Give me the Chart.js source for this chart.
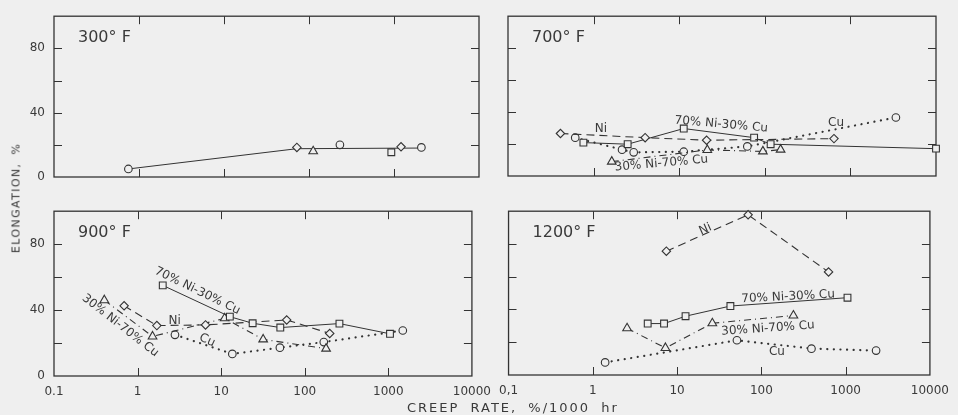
<!DOCTYPE html>
<html>
<head>
<meta charset="utf-8">
<script src="https://cdn.jsdelivr.net/npm/chart.js@4.4.1/dist/chart.umd.min.js"></script>
<style>
  body { margin: 0; background: #efefef; }
  #wrap { position: relative; width: 958px; height: 415px; background: #efefef; font-family: "DejaVu Sans", sans-serif; color: #3a3a3a; overflow: hidden; }
  canvas { position: absolute; }
  .axt { position: absolute; font-size: 13px; letter-spacing: 2px; word-spacing: 5px; white-space: nowrap; }
</style>
</head>
<body>
<div id="wrap">
  <canvas id="p300" style="left:0;top:0" width="500" height="195"></canvas>
  <canvas id="p700" style="left:490px;top:0" width="468" height="195"></canvas>
  <canvas id="p900" style="left:0;top:195px" width="500" height="220"></canvas>
  <canvas id="p1200" style="left:490px;top:195px" width="468" height="220"></canvas>
  <div class="axt" style="left:16px;top:198px;font-size:11px;letter-spacing:1.4px;word-spacing:3px;transform:translate(-50%,-50%) rotate(-90deg)">ELONGATION, %</div>
  <div class="axt" style="left:407px;top:400px">CREEP RATE, %/1000 hr</div>
</div>
<script>
// axes
const xTicks = [0.1, 1, 10, 100, 1000, 10000];
const xLabelsLeft = ['0.1', '1', '10', '100', '1000', '10000'];
const xLabelsRight = ['0,1', '1', '10', '100', '1000', '10000'];
const xLabelsNone = ['', '', '', '', '', ''];
const yTicks = [0, 20, 40, 60, 80, 100];
const yLabels = ['0', '', '40', '', '80', ''];
const yLabelsNone = ['', '', '', '', '', ''];

// 300 F
const cu300X = [0.75, 231, 2100], cu300Y = [5, 20, 18.4];
const ni300X = [72, 1210], ni300Y = [18.4, 18.8];
const n70_300X = [930], n70_300Y = [15.4];
const n30_300X = [112], n30_300Y = [16];
const fit300X = [0.75, 72, 2100], fit300Y = [5, 17.6, 18];

// 700 F
const ni700X = [0.41, 4.0, 20.9, 643], ni700Y = [26.6, 24, 22.4, 23.4];
const n70_700X = [0.76, 2.5, 11.3, 75, 117, 10000], n70_700Y = [20.9, 19.9, 29.7, 24, 19.9, 17.1];
const cu700X = [0.61, 2.15, 2.94, 11.3, 62.5, 3400], cu700Y = [24, 16.5, 14.8, 15.2, 18.5, 36.6];
const n30_700X = [1.63, 21.3, 95, 153], n30_700Y = [9, 16.3, 15.4, 16.5];

// 900 F
const n70_900X = [2.0, 12.7, 23.8, 51, 260, 1047], n70_900Y = [55, 36, 32, 29.4, 31.8, 25.6];
const ni900X = [0.69, 1.7, 6.5, 60.8, 199], ni900Y = [42.6, 30.6, 31, 34, 25.8];
const n30_900X = [0.40, 1.51, 11.0, 31.8, 180], n30_900Y = [46, 24, 35, 22.2, 16.6];
const cu900X = [2.8, 13.6, 50.4, 169, 1489], cu900Y = [25, 13.4, 17.2, 20.6, 27.6];

// 1200 F
const ni1200X = [7.46, 69.6, 627], ni1200Y = [75.6, 97.8, 62.9];
const n70_1200X = [4.48, 7.0, 12.6, 42.9, 1052], n70_1200Y = [31.4, 31.4, 35.9, 42.1, 47.2];
const n30_1200X = [2.55, 7.27, 26.2, 240], n30_1200Y = [28.5, 16.5, 31.6, 36.3];
const cu1200X = [1.40, 51.3, 393, 2297], cu1200Y = [7.7, 21.2, 16.1, 14.9];

const INK = '#333';
const BG = '#efefef';
const FONT = '"DejaVu Sans", sans-serif';

const STYLE = {
  cu:  { shape: 'circle',   r: 3.8, w: 2.2, dash: [0.1, 6.5], cap: 'round' },
  ni:  { shape: 'rectRot',  r: 4.2, w: 1.1, dash: [8, 5] },
  n70: { shape: 'rect',     r: 4.8, w: 1,   dash: [] },
  n30: { shape: 'triangle', r: 5,   w: 1.1, dash: [7, 4, 1, 4] },
  fit: { shape: 'circle',   r: 0,   w: 1,   dash: [] }
};

function pts(xs, ys) {
  return xs.map((x, i) => ({ x, y: ys[i] }));
}

function series(kind, xs, ys, showLine = true) {
  const s = STYLE[kind];
  return {
    data: pts(xs, ys),
    showLine,
    borderColor: INK,
    borderWidth: s.w,
    borderDash: s.dash,
    borderCapStyle: s.cap || 'butt',
    pointStyle: s.shape,
    pointRadius: s.r,
    pointBorderColor: INK,
    pointBackgroundColor: BG,
    pointBorderWidth: 1.1,
    tension: 0,
    fill: false,
    clip: false
  };
}

const framePlugin = {
  id: 'frame',
  beforeDatasetsDraw(chart, args, opts) {
    const { ctx, chartArea: a, scales } = chart;
    ctx.save();
    ctx.strokeStyle = INK;
    ctx.lineWidth = 1.3;
    ctx.strokeRect(a.left, a.top, a.right - a.left, a.bottom - a.top);
    ctx.lineWidth = 1;
    ctx.beginPath();
    xTicks.slice(1, -1).forEach(v => {
      const px = Math.round(scales.x.getPixelForValue(v)) + 0.5;
      ctx.moveTo(px, a.bottom); ctx.lineTo(px, a.bottom - 8);
      ctx.moveTo(px, a.top); ctx.lineTo(px, a.top + 8);
    });
    yTicks.slice(1, -1).forEach(v => {
      const py = Math.round(scales.y.getPixelForValue(v)) + 0.5;
      ctx.moveTo(a.left, py); ctx.lineTo(a.left + 8, py);
      ctx.moveTo(a.right, py); ctx.lineTo(a.right - 8, py);
    });
    ctx.stroke();
    ctx.restore();
  },
  afterDatasetsDraw(chart, args, opts) {
    const { ctx, chartArea: a, scales } = chart;
    ctx.save();
    ctx.fillStyle = '#3a3a3a';
    ctx.font = '16px ' + FONT;
    ctx.textBaseline = 'middle';
    ctx.fillText(opts.title, a.left + 24, a.top + 22);
    ctx.font = '12px ' + FONT;
    ctx.textAlign = 'center';
    (opts.notes || []).forEach(n => {
      ctx.save();
      ctx.translate(scales.x.getPixelForValue(n.x), scales.y.getPixelForValue(n.y));
      ctx.rotate((n.rot || 0) * Math.PI / 180);
      ctx.fillText(n.text, 0, 0);
      ctx.restore();
    });
    ctx.restore();
  }
};

function makePanel(id, cfg) {
  return new Chart(document.getElementById(id), {
    type: 'line',
    data: { datasets: cfg.datasets },
    options: {
      responsive: false,
      animation: false,
      layout: { padding: cfg.pad },
      plugins: {
        legend: { display: false },
        tooltip: { enabled: false },
        frame: { title: cfg.title, notes: cfg.notes }
      },
      scales: {
        x: {
          type: 'logarithmic', min: 0.1, max: 10000,
          grid: { display: false, drawTicks: false },
          border: { display: false },
          afterBuildTicks: s => { s.ticks = xTicks.map(v => ({ value: v })); },
          afterFit: s => { s.height = cfg.xh; },
          ticks: {
            autoSkip: false, maxRotation: 0, padding: 9, color: '#3a3a3a',
            font: { family: FONT, size: 12 },
            callback: (v, i) => cfg.xLabels[i]
          }
        },
        y: {
          type: 'linear', min: 0, max: 100,
          grid: { display: false, drawTicks: false },
          border: { display: false },
          afterBuildTicks: s => { s.ticks = yTicks.map(v => ({ value: v })); },
          afterFit: s => { s.width = cfg.yw; },
          ticks: {
            padding: 9, color: '#3a3a3a',
            font: { family: FONT, size: 12 },
            callback: (v, i) => cfg.yLabels[i]
          }
        }
      }
    },
    plugins: [framePlugin]
  });
}

makePanel('p300', {
  title: '300° F',
  pad: { top: 13, right: 21, left: 0, bottom: 0 },
  xh: 18, yw: 54,
  xLabels: xLabelsNone, yLabels: yLabels,
  datasets: [
    series('cu', cu300X, cu300Y, false),
    series('ni', ni300X, ni300Y, false),
    series('n70', n70_300X, n70_300Y, false),
    series('n30', n30_300X, n30_300Y, false),
    series('fit', fit300X, fit300Y)
  ],
  notes: []
});

makePanel('p700', {
  title: '700° F',
  pad: { top: 13, right: 22, left: 0, bottom: 0 },
  xh: 19, yw: 18,
  xLabels: xLabelsNone, yLabels: yLabelsNone,
  datasets: [
    series('ni', ni700X, ni700Y),
    series('n70', n70_700X, n70_700Y),
    series('n30', n30_700X, n30_700Y),
    series('cu', cu700X, cu700Y)
  ],
  notes: [
    { text: 'Ni', x: 1.22, y: 29.5 },
    { text: '70% Ni-30% Cu', x: 31, y: 32.3, rot: 5 },
    { text: 'Cu', x: 680, y: 33.1 },
    { text: '30% Ni-70% Cu', x: 6.2, y: 7.9, rot: -5 }
  ]
});

makePanel('p900', {
  title: '900° F',
  pad: { top: 16, right: 21, left: 0, bottom: 0 },
  xh: 39, yw: 54,
  xLabels: xLabelsLeft, yLabels: yLabels,
  datasets: [
    series('n70', n70_900X, n70_900Y),
    series('ni', ni900X, ni900Y),
    series('n30', n30_900X, n30_900Y),
    series('cu', cu900X, cu900Y)
  ],
  notes: [
    { text: '70% Ni-30% Cu', x: 5.2, y: 51.6, rot: 26 },
    { text: 'Ni', x: 2.78, y: 33.6 },
    { text: '30% Ni-70% Cu', x: 0.62, y: 30.6, rot: 38 },
    { text: 'Cu', x: 6.8, y: 21.6, rot: 25 }
  ]
});

makePanel('p1200', {
  title: '1200° F',
  pad: { top: 16, right: 22, left: 0, bottom: 0 },
  xh: 40, yw: 18,
  xLabels: xLabelsRight, yLabels: yLabelsNone,
  datasets: [
    series('ni', ni1200X, ni1200Y),
    series('n70', n70_1200X, n70_1200Y),
    series('n30', n30_1200X, n30_1200Y),
    series('cu', cu1200X, cu1200Y)
  ],
  notes: [
    { text: 'Ni', x: 21.7, y: 88.9, rot: -24 },
    { text: '70% Ni-30% Cu', x: 208, y: 47.8, rot: -3 },
    { text: '30% Ni-70% Cu', x: 120, y: 28.4, rot: -4 },
    { text: 'Cu', x: 153, y: 14.1 }
  ]
});
</script>
</body>
</html>
